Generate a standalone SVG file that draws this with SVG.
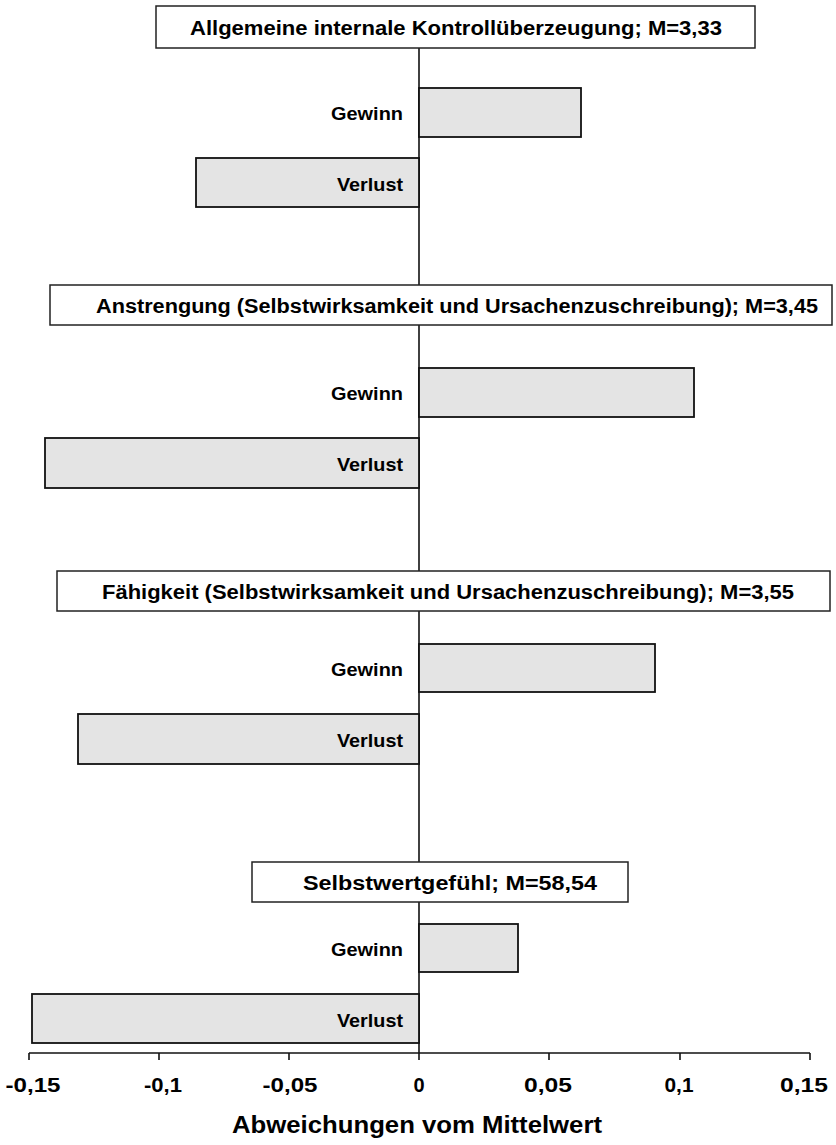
<svg xmlns="http://www.w3.org/2000/svg" width="836" height="1145" viewBox="0 0 836 1145">
<style>
.t{font-family:"Liberation Sans",Arial,sans-serif;font-weight:bold;fill:#000}
.box{fill:#fff;stroke:#222;stroke-width:1.5}
.bar{fill:#e4e4e4;stroke:#111;stroke-width:1.8}
.ax{stroke:#111;stroke-width:1.6;fill:none}
.hd{font-size:20px}
.lb{font-size:19px;text-anchor:end}
.tk{font-size:20px;text-anchor:middle}
</style>
<g id="axes">
<line class="ax" x1="419" y1="48" x2="419" y2="1060"/>
<line class="ax" x1="29" y1="1053" x2="810" y2="1053"/>
<path class="ax" d="M29 1053V1060M159 1053V1060M289 1053V1060M549 1053V1060M680 1053V1060M810 1053V1060"/>
<text class="t tk" x="33" y="1092" textLength="55" lengthAdjust="spacingAndGlyphs">-0,15</text>
<text class="t tk" x="163" y="1092" textLength="38" lengthAdjust="spacingAndGlyphs">-0,1</text>
<text class="t tk" x="290" y="1092" textLength="55" lengthAdjust="spacingAndGlyphs">-0,05</text>
<text class="t tk" x="419" y="1092">0</text>
<text class="t tk" x="548" y="1092" textLength="48" lengthAdjust="spacingAndGlyphs">0,05</text>
<text class="t tk" x="679" y="1092" textLength="29" lengthAdjust="spacingAndGlyphs">0,1</text>
<text class="t tk" x="804" y="1092" textLength="48" lengthAdjust="spacingAndGlyphs">0,15</text>
<text class="t" x="417" y="1133" font-size="23" text-anchor="middle" textLength="370" lengthAdjust="spacingAndGlyphs">Abweichungen vom Mittelwert</text>
</g>
<g id="node1">
<rect class="box" x="156" y="6" width="599" height="42"/>
<text class="t hd" x="190" y="35" textLength="532" lengthAdjust="spacingAndGlyphs">Allgemeine internale Kontrollüberzeugung; M=3,33</text>
<rect class="bar" x="419" y="88" width="162" height="49"/>
<text class="t lb" x="403" y="120" textLength="72" lengthAdjust="spacingAndGlyphs">Gewinn</text>
<rect class="bar" x="196" y="158" width="223" height="49"/>
<text class="t lb" x="403" y="191" textLength="66" lengthAdjust="spacingAndGlyphs">Verlust</text>
</g>
<g id="node2">
<rect class="box" x="50" y="285" width="782" height="40"/>
<text class="t hd" x="96" y="313" textLength="722" lengthAdjust="spacingAndGlyphs">Anstrengung (Selbstwirksamkeit und Ursachenzuschreibung); M=3,45</text>
<rect class="bar" x="419" y="368" width="275" height="49"/>
<text class="t lb" x="403" y="400" textLength="72" lengthAdjust="spacingAndGlyphs">Gewinn</text>
<rect class="bar" x="45" y="438" width="374" height="50"/>
<text class="t lb" x="403" y="471" textLength="66" lengthAdjust="spacingAndGlyphs">Verlust</text>
</g>
<g id="node3">
<rect class="box" x="57" y="571" width="773" height="40"/>
<text class="t hd" x="102" y="599" textLength="692" lengthAdjust="spacingAndGlyphs">Fähigkeit (Selbstwirksamkeit und Ursachenzuschreibung); M=3,55</text>
<rect class="bar" x="419" y="644" width="236" height="48"/>
<text class="t lb" x="403" y="676" textLength="72" lengthAdjust="spacingAndGlyphs">Gewinn</text>
<rect class="bar" x="78" y="714" width="341" height="50"/>
<text class="t lb" x="403" y="747" textLength="66" lengthAdjust="spacingAndGlyphs">Verlust</text>
</g>
<g id="node4">
<rect class="box" x="252" y="862" width="376" height="40"/>
<text class="t hd" x="303" y="890" textLength="294" lengthAdjust="spacingAndGlyphs">Selbstwertgefühl; M=58,54</text>
<rect class="bar" x="419" y="924" width="99" height="48"/>
<text class="t lb" x="403" y="956" textLength="72" lengthAdjust="spacingAndGlyphs">Gewinn</text>
<rect class="bar" x="32" y="994" width="387" height="49"/>
<text class="t lb" x="403" y="1027" textLength="66" lengthAdjust="spacingAndGlyphs">Verlust</text>
</g>
</svg>
